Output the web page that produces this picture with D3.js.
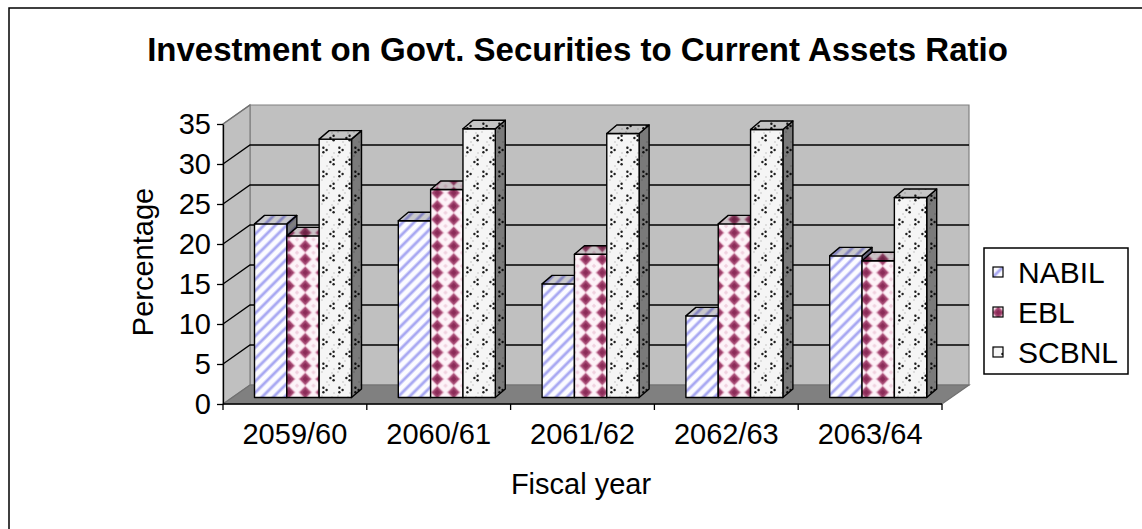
<!DOCTYPE html>
<html>
<head>
<meta charset="utf-8">
<script src="https://cdn.jsdelivr.net/npm/d3@7"></script>
<style>
  html, body { margin: 0; padding: 0; background: #fff; }
  svg { display: block; font-family: "Liberation Sans", Arial, sans-serif; }
</style>
</head>
<body>
<svg id="chart" width="1142" height="529"></svg>
<script>
// ---- data ----
const categories = ["2059/60", "2060/61", "2061/62", "2062/63", "2063/64"];
const seriesNames = ["NABIL", "EBL", "SCBNL"];
const nabil = [21.7, 22.1, 14.2, 10.2, 17.7];
const ebl   = [20.2, 26.0, 17.9, 21.7, 17.1];
const scbnl = [32.3, 33.6, 33.0, 33.5, 25.0];
const yTicks = [0, 5, 10, 15, 20, 25, 30, 35];

const seriesValues = [nabil, ebl, scbnl];

const svg = d3.select("#chart");
const defs = svg.append("defs");

// ---- fill patterns ----
// NABIL: soft lavender diagonal stripes
const nP = 8;
const pN = defs.append("pattern").attr("id", "pat-nabil")
  .attr("patternUnits", "userSpaceOnUse").attr("width", nP).attr("height", nP)
  .attr("patternTransform", "rotate(45)");
pN.append("rect").attr("width", nP).attr("height", nP).attr("fill", "#fcfcff");
pN.append("rect").attr("x", 0).attr("width", 4).attr("height", nP).attr("fill", "#d6d6f9");
pN.append("rect").attr("x", 1).attr("width", 2).attr("height", nP).attr("fill", "#a8a8f2");

// EBL: maroon diamonds on pale pink
const eW = 16.5, eH = 13.3;
const pE = defs.append("pattern").attr("id", "pat-ebl")
  .attr("patternUnits", "userSpaceOnUse").attr("width", eW).attr("height", eH);
pE.append("rect").attr("width", eW).attr("height", eH).attr("fill", "#fdf3f8");
const diamond = (cx, cy, rx, ry) => `M${cx},${cy - ry}L${cx + rx},${cy}L${cx},${cy + ry}L${cx - rx},${cy}Z`;
pE.append("path").attr("d", diamond(eW / 2, eH / 2, 7, 7)).attr("fill", "#e3aec5");
pE.append("path").attr("d", diamond(eW / 2, eH / 2, 5.4, 5.6)).attr("fill", "#a2446f");
pE.append("path").attr("d", diamond(eW / 2, eH / 2, 3, 3.2)).attr("fill", "#8b2b58");
// faint pink cross-points between the diamonds
[[0, 0], [eW, 0], [0, eH], [eW, eH]].forEach(([cx, cy]) =>
  pE.append("path").attr("d", diamond(cx, cy, 2.2, 2.2)).attr("fill", "#f0d0de"));

// SCBNL: staggered dark chevron marks on light grey
const sW = 16, sH = 24;
const pS = defs.append("pattern").attr("id", "pat-scbnl")
  .attr("patternUnits", "userSpaceOnUse").attr("width", sW).attr("height", sH);
pS.append("rect").attr("width", sW).attr("height", sH).attr("fill", "#f5f5f5");
[[2, 12], [9, 1], [14, 9], [7, 22], [12, 13], [3, 3]].forEach(([cx, cy]) =>
  pS.append("circle").attr("cx", cx).attr("cy", cy).attr("r", 1).attr("fill", "#d6d6d6"));
function chevron(g, cx, cy, dir) {
  const pts = dir > 0
    ? [[cx - 1.6, cy - 2.3], [cx + 1.6, cy], [cx - 1.6, cy + 2.3]]
    : [[cx + 1.6, cy - 2.3], [cx - 1.6, cy], [cx + 1.6, cy + 2.3]];
  pts.forEach(([x, y]) => g.append("circle").attr("cx", x).attr("cy", y).attr("r", 1.2).attr("fill", "#1e1e1e"));
}
chevron(pS, 5, 6, 1);
chevron(pS, 12, 18, -1);

const fills = { NABIL: "url(#pat-nabil)", EBL: "url(#pat-ebl)", SCBNL: "url(#pat-scbnl)" };

// ---- outer chart border ----
svg.append("rect").attr("x", 9).attr("y", 8).attr("width", 1160).attr("height", 560)
  .attr("fill", "none").attr("stroke", "#000").attr("stroke-width", 1.5);

// ---- scales ----
const x = d3.scaleBand().domain(categories).range([223, 942]);
const y = d3.scaleLinear().domain([0, 35]).range([404, 124]);
const DX = 27, DY = -19;                 // depth of walls / floor
const xs = d3.scaleBand().domain(seriesNames).range([22, 22 + 97]);
const BOFF = { x: 9.5, y: -6.5 };        // front face of the bars sits behind the front plane
const BD = { x: 10, y: -8.5 };           // depth of each bar

const path = pts => "M" + pts.map(p => p.join(",")).join("L") + "Z";
const [xL, xR] = x.range();
const y0 = y(0), yTop = y(35);

// ---- walls and floor ----
const walls = svg.append("g");
walls.append("path")   // back wall
  .attr("d", path([[xL + DX, yTop + DY], [xR + DX, yTop + DY], [xR + DX, y0 + DY], [xL + DX, y0 + DY]]))
  .attr("fill", "#c0c0c0").attr("stroke", "#808080").attr("stroke-width", 1.2);
walls.append("path")   // side wall
  .attr("d", path([[xL, yTop], [xL + DX, yTop + DY], [xL + DX, y0 + DY], [xL, y0]]))
  .attr("fill", "#c0c0c0").attr("stroke", "#808080").attr("stroke-width", 1.2);
walls.append("path")   // floor
  .attr("d", path([[xL, y0], [xL + DX, y0 + DY], [xR + DX, y0 + DY], [xR, y0]]))
  .attr("fill", "#808080").attr("stroke", "#707070").attr("stroke-width", 1.2);

// ---- gridlines (side wall + back wall) ----
const grid = svg.append("g").attr("stroke", "#000").attr("stroke-width", 1.3).attr("fill", "none");
yTicks.filter(t => t > 0 && t < 35).forEach(t => {
  const yy = y(t);
  grid.append("path").attr("d", `M${xL},${yy}L${xL + DX},${yy + DY}L${xR + DX},${yy + DY}`);
});
svg.append("path").attr("d", `M${xL},${yTop}L${xL + DX},${yTop + DY}`)
  .attr("stroke", "#707070").attr("stroke-width", 1.2).attr("fill", "none");

// ---- value axis ----
const yAxis = d3.axisLeft(y).tickValues(yTicks).tickSize(6).tickPadding(6).tickSizeOuter(0);
const yg = svg.append("g").attr("transform", `translate(${xL},0)`).call(yAxis);
yg.select(".domain").attr("stroke", "#000").attr("stroke-width", 1.3);
yg.selectAll(".tick line").attr("stroke", "#000").attr("stroke-width", 1.3);
yg.selectAll(".tick text").attr("font-size", 29).attr("fill", "#000")
  .attr("font-family", "'Liberation Sans', Arial, sans-serif");

// ---- category axis ----
const xAxis = d3.axisBottom(x).tickSize(0).tickPadding(0);
const xg = svg.append("g").attr("transform", `translate(0,${y0})`).call(xAxis);
xg.select(".domain").remove();
xg.append("line").attr("x1", xL).attr("x2", xR).attr("stroke", "#000").attr("stroke-width", 1.3);
const bounds = categories.map(c => x(c)).concat([xR]);
xg.selectAll(".bnd").data(bounds).join("line").attr("class", "bnd")
  .attr("x1", d => d).attr("x2", d => d).attr("y1", 0).attr("y2", 6)
  .attr("stroke", "#000").attr("stroke-width", 1.3);
xg.selectAll(".tick text").attr("font-size", 29).attr("fill", "#000").attr("dy", null)
  .attr("y", 40).attr("font-family", "'Liberation Sans', Arial, sans-serif");

// ---- bars ----
const rows = categories.flatMap((c, i) => seriesNames.map((s, j) => ({ cat: c, series: s, value: seriesValues[j][i] })));
const barsG = svg.append("g");
rows.forEach(d => {
  const bx = x(d.cat) + xs(d.series) + BOFF.x;
  const w = xs.bandwidth();
  const bBot = y(0) + BOFF.y;
  const bTop = y(d.value) + BOFF.y;
  const g = barsG.append("g");
  const face = (pts, shade) => {
    const p = path(pts);
    g.append("path").attr("d", p).attr("fill", fills[d.series]);
    if (shade) g.append("path").attr("d", p).attr("fill", "#000").attr("fill-opacity", shade);
    g.append("path").attr("d", p).attr("fill", "none").attr("stroke", "#000")
      .attr("stroke-width", 1.4).attr("stroke-linejoin", "round");
  };
  // side
  face([[bx + w, bTop], [bx + w + BD.x, bTop + BD.y], [bx + w + BD.x, bBot + BD.y], [bx + w, bBot]], 0.5);
  // front
  face([[bx, bTop], [bx + w, bTop], [bx + w, bBot], [bx, bBot]], 0);
  // top
  face([[bx, bTop], [bx + BD.x, bTop + BD.y], [bx + w + BD.x, bTop + BD.y], [bx + w, bTop]], 0.2);
});

// ---- titles ----
svg.append("text").attr("x", 577.5).attr("y", 61).attr("text-anchor", "middle")
  .attr("font-size", 33).attr("font-weight", "bold").text("Investment on Govt. Securities to Current Assets Ratio");
svg.append("text").attr("transform", "translate(153,262) rotate(-90)").attr("text-anchor", "middle")
  .attr("font-size", 29).text("Percentage");
svg.append("text").attr("x", 581).attr("y", 494).attr("text-anchor", "middle")
  .attr("font-size", 29).text("Fiscal year");

// ---- legend ----
const lg = svg.append("g");
lg.append("rect").attr("x", 984).attr("y", 248).attr("width", 144).attr("height", 126)
  .attr("fill", "#fff").attr("stroke", "#000").attr("stroke-width", 1.5);
const ly = d3.scalePoint().domain(seriesNames).range([272, 352]);
seriesNames.forEach(s => {
  lg.append("rect").attr("x", 993).attr("y", ly(s) - 5).attr("width", 10).attr("height", 10)
    .attr("fill", fills[s]).attr("stroke", "#000").attr("stroke-width", 1.2);
  lg.append("text").attr("x", 1018).attr("y", ly(s)).attr("dy", "0.36em")
    .attr("font-size", 30).text(s);
});
</script>
</body>
</html>
